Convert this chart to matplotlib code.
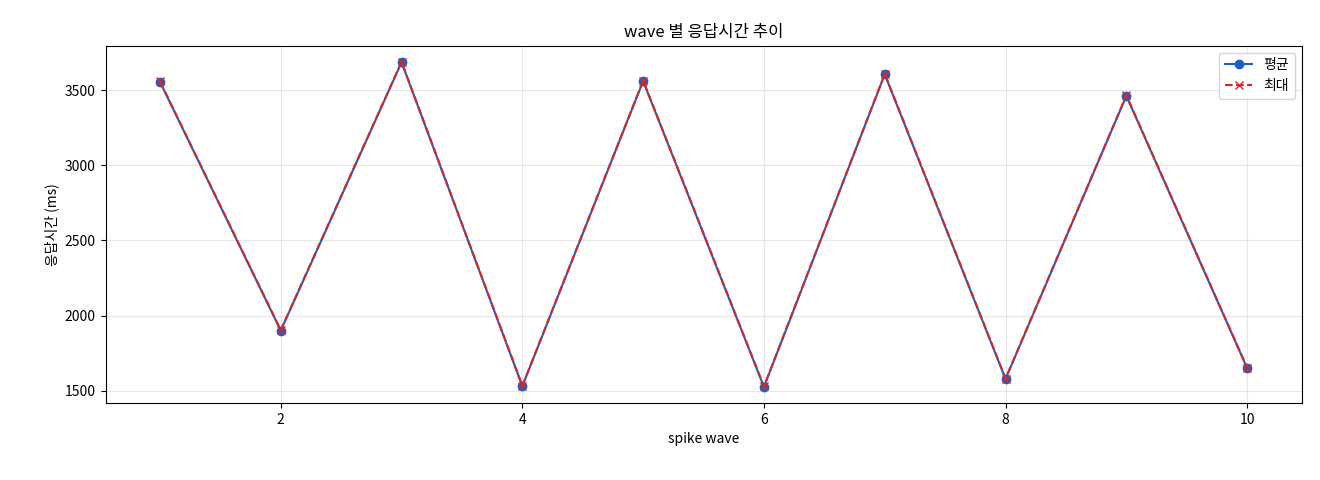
import matplotlib
matplotlib.use("Agg")
import matplotlib.pyplot as plt

plt.rcParams["font.family"] = ["Noto Sans CJK KR", "DejaVu Sans"]

waves = [1, 2, 3, 4, 5, 6, 7, 8, 9, 10]
avg_ms = [3555, 1900, 3685, 1530, 3560, 1525, 3605, 1578, 3462, 1650]
max_ms = [3558, 1903, 3688, 1533, 3563, 1528, 3608, 1581, 3465, 1653]

fig, ax = plt.subplots(figsize=(13.2, 4.8), dpi=100)
fig.subplots_adjust(left=0.08, right=0.986, top=0.905, bottom=0.16)

ax.plot(waves, avg_ms, marker="o", color="#1f5fbf", linewidth=1.5, markersize=6, label="평균")
ax.plot(waves, max_ms, marker="x", linestyle="--", color="#d62728", linewidth=1.5, markersize=6, label="최대")

ax.set_title("wave 별 응답시간 추이", fontsize=12)
ax.set_xlabel("spike wave", fontsize=10)
ax.set_ylabel("응답시간 (ms)", fontsize=10)
ax.grid(True, alpha=0.3)
ax.legend(loc="upper right", fontsize=10)

fig.savefig("out.png", dpi=100, facecolor="white")
